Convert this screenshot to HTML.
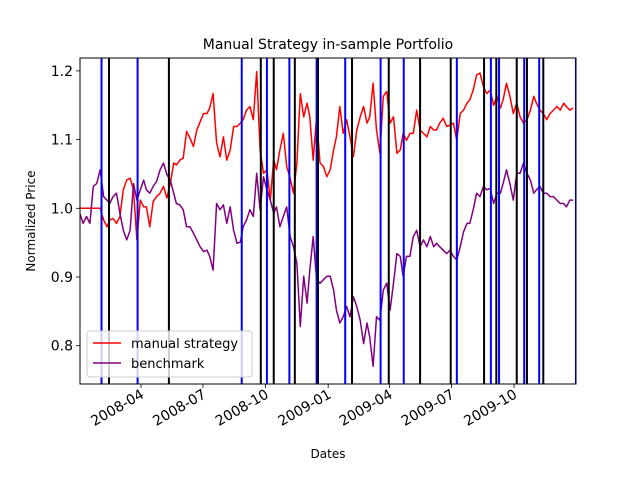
<!DOCTYPE html>
<html><head><meta charset="utf-8"><style>
body{margin:0;background:#fff;}
svg text{font-family:"DejaVu Sans","Liberation Sans",sans-serif;fill:#000;}
</style></head><body>
<svg id="chart" width="640" height="480" viewBox="0 0 640 480">
<rect x="0" y="0" width="640" height="480" fill="#fff"/>
<text x="328" y="49" text-anchor="middle" font-size="14">Manual Strategy in-sample Portfolio</text>
<text x="328" y="458" text-anchor="middle" font-size="12">Dates</text>
<text x="0" y="0" transform="translate(35,221) rotate(-90)" text-anchor="middle" font-size="12">Normalized Price</text>
<g id="series"></g>
<g id="axes"></g>
</svg>
<script>
const dayOffsets=[1,6,11,16,21,26,31,36,41,45,50,55,60,65,70,75,80,85,90,95,99,104,109,114,119,124,129,134,139,143,148,153,158,163,168,173,178,183,188,192,197,202,207,212,217,222,227,232,237,241,246,251,256,261,266,271,276,281,286,290,295,300,305,310,315,320,325,330,335,339,344,349,354,359,364,369,374,378,383,388,393,398,403,408,413,418,423,427,432,437,442,447,452,457,462,467,472,476,481,486,491,496,501,506,511,516,521,525,530,535,540,545,550,555,560,565,570,574,579,584,589,594,599,604,609,614,619,623,628,633,638,643,648,653,658,663,668,672,677,682,687,692,697,702,707,712,716,721,726];
const manualValues=[1.000,1.000,1.000,1.000,1.000,1.000,1.000,0.983,0.973,0.983,0.985,0.978,0.988,1.027,1.041,1.044,1.027,0.954,1.012,1.002,1.002,0.973,1.010,1.017,1.022,1.032,1.015,1.036,1.066,1.063,1.070,1.073,1.112,1.102,1.090,1.114,1.126,1.138,1.138,1.146,1.167,1.095,1.075,1.104,1.070,1.085,1.119,1.119,1.124,1.129,1.143,1.148,1.129,1.199,1.085,1.051,1.056,1.012,1.070,1.056,1.085,1.109,1.061,1.044,1.022,1.066,1.167,1.133,1.153,1.133,1.070,1.133,1.066,1.061,1.046,1.056,1.085,1.104,1.148,1.109,1.129,1.104,1.075,1.114,1.133,1.148,1.124,1.133,1.182,1.114,1.080,1.163,1.170,1.124,1.133,1.080,1.085,1.109,1.099,1.109,1.109,1.143,1.114,1.109,1.104,1.119,1.114,1.114,1.124,1.131,1.119,1.121,1.124,1.099,1.138,1.143,1.153,1.158,1.172,1.194,1.197,1.177,1.167,1.172,1.150,1.163,1.146,1.158,1.182,1.163,1.138,1.153,1.133,1.124,1.129,1.143,1.163,1.153,1.143,1.138,1.129,1.138,1.143,1.148,1.143,1.153,1.148,1.143,1.146];
const benchmarkValues=[0.993,0.978,0.988,0.978,1.032,1.036,1.056,1.017,1.012,1.007,1.017,1.022,0.993,0.968,0.954,0.968,1.036,1.012,1.027,1.041,1.027,1.022,1.032,1.039,1.056,1.066,1.049,1.041,1.022,1.007,1.005,0.998,0.973,0.973,0.964,0.954,0.944,0.937,0.939,0.930,0.910,1.007,0.998,1.005,0.978,1.002,0.968,0.949,0.951,0.973,0.983,0.998,0.988,1.051,0.998,1.046,1.027,1.012,0.993,1.002,0.973,0.988,1.002,0.959,0.944,0.920,0.828,0.901,0.862,0.910,0.959,0.896,0.891,0.896,0.901,0.901,0.881,0.852,0.833,0.842,0.857,0.842,0.871,0.857,0.837,0.803,0.833,0.813,0.770,0.842,0.837,0.881,0.891,0.852,0.891,0.934,0.930,0.901,0.930,0.930,0.959,0.968,0.944,0.954,0.944,0.959,0.944,0.949,0.944,0.939,0.934,0.939,0.930,0.925,0.944,0.966,0.978,0.978,0.998,1.022,1.017,1.032,1.027,1.029,1.007,1.022,1.022,1.036,1.056,1.036,1.012,1.051,1.051,1.066,1.051,1.041,1.022,1.027,1.032,1.022,1.022,1.017,1.017,1.012,1.007,1.007,1.002,1.012,1.012];
const buyDays=[33,86,239,276,309,349,391,443,477,555,605,617,654,676,730];
const sellDays=[44,132,267,286,317,351,401,455,501,546,595,613,643,658,682];
const xTickDays=[91,182,274,366,456,547,639];
const xTickLabels=["2008-04","2008-07","2008-10","2009-01","2009-04","2009-07","2009-10"];
const yTickValues=[0.8,0.9,1.0,1.1,1.2];
const yTickLabels=["0.8","0.9","1.0","1.1","1.2"];

const L=80,R=576,T=58,B=384;
function xs(d){return 79.05+0.6807*d;}
function ys(v){return 208.3-(v-1)*687;}
const NS="http://www.w3.org/2000/svg";
function mk(tag,attrs,parent){const e=document.createElementNS(NS,tag);for(const k in attrs)e.setAttribute(k,attrs[k]);parent.appendChild(e);return e;}
const svg=document.getElementById('chart');
const g=document.getElementById('series');
const ax=document.getElementById('axes');
const defs=mk('defs',{},svg);
const cp=mk('clipPath',{id:'clip'},defs);
mk('rect',{x:L,y:T,width:R-L,height:B-T},cp);
g.setAttribute('clip-path','url(#clip)');

function line(vals,color,name){
  const pts=dayOffsets.map((d,i)=>xs(d).toFixed(1)+','+ys(vals[i]).toFixed(1)).join(' ');
  const p=mk('polyline',{points:pts,fill:'none',stroke:color,'stroke-width':1.5,'stroke-linejoin':'round'},g);
  
  
}
line(manualValues,'#ff0000','manual-strategy-line');
line(benchmarkValues,'#800080','benchmark-line');
buyDays.forEach(d=>{
  const l=mk('line',{x1:xs(d),x2:xs(d),y1:T,y2:B,stroke:'#0000ff','stroke-width':2},g);
  
  
});
sellDays.forEach(d=>{
  const l=mk('line',{x1:xs(d),x2:xs(d),y1:T,y2:B,stroke:'#000000','stroke-width':2},g);
  
  
});

const fr=mk('rect',{x:L,y:T,width:R-L,height:B-T,fill:'none',stroke:'#000','stroke-width':1},ax);


xTickDays.forEach((d,i)=>{
  const x=xs(d);
  const t=mk('line',{x1:x,x2:x,y1:B,y2:B+4,stroke:'#000','stroke-width':0.8},ax);
  
  
  const tx=mk('text',{x:0,y:0,'font-size':14,'text-anchor':'end',transform:`translate(${x+4},${B+13}) rotate(-30)`},ax);
  tx.textContent=xTickLabels[i];
  
  
});
yTickValues.forEach((v,i)=>{
  const y=ys(v);
  const t=mk('line',{x1:L-4,x2:L,y1:y,y2:y,stroke:'#000','stroke-width':0.8},ax);
  
  
  const tx=mk('text',{x:L-7,y:y+5,'font-size':14,'text-anchor':'end'},ax);
  tx.textContent=yTickLabels[i];
  
  
});
const lg=mk('g',{},ax);


mk('rect',{x:87,y:331,width:165,height:46,rx:3,fill:'#fff','fill-opacity':0.8,stroke:'#ccc','stroke-width':1},lg);
const entries=[['manual strategy','#ff0000',343],['benchmark','#800080',363]];
entries.forEach(e=>{
  const ent=mk('g',{},lg);
  
  
  mk('line',{x1:93,x2:121,y1:e[2],y2:e[2],stroke:e[1],'stroke-width':1.5},ent);
  const t=mk('text',{x:131,y:e[2]+5,'font-size':13},ent);
  t.textContent=e[0];
});
</script>
</body></html>
